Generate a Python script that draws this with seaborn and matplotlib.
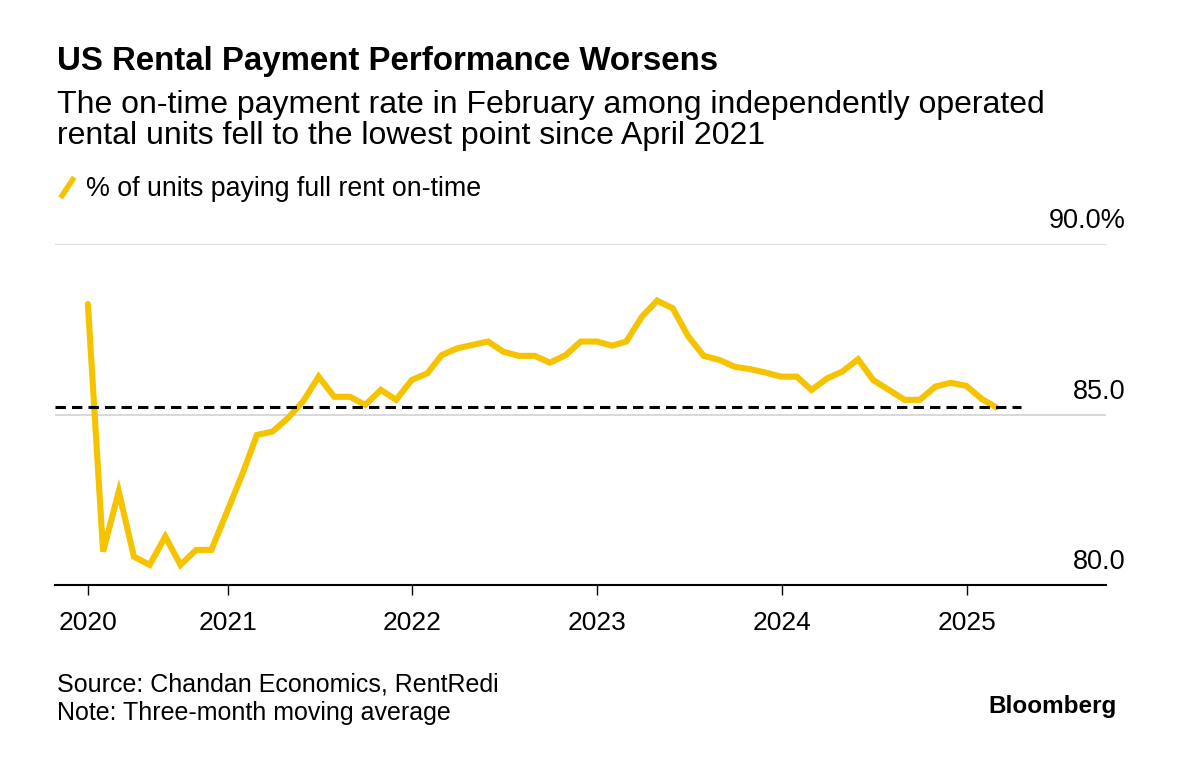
import matplotlib
matplotlib.use("Agg")
import matplotlib.pyplot as plt
from matplotlib.lines import Line2D
from matplotlib.legend_handler import HandlerBase
import seaborn as sns
import pandas as pd

# ---------------- data ----------------
start_month = "2020-03-31"
on_time_pct = [
    88.24, 80.98, 82.74, 80.83, 80.59, 81.42, 80.59, 81.03, 81.03, 82.15,
    83.28, 84.40, 84.50, 84.89, 85.40, 86.11, 85.52, 85.52, 85.28, 85.72,
    85.43, 86.01, 86.21, 86.74, 86.94, 87.04, 87.14, 86.84, 86.72, 86.72,
    86.52, 86.74, 87.14, 87.14, 87.02, 87.14, 87.87, 88.34, 88.11, 87.30,
    86.72, 86.60, 86.40, 86.33, 86.23, 86.11, 86.11, 85.72, 86.06, 86.26,
    86.62, 86.01, 85.72, 85.43, 85.43, 85.82, 85.93, 85.84, 85.45, 85.21,
]
reference_level = 85.21
y_ticks = [80, 85, 90]
y_tick_labels = ["80.0", "85.0", "90.0%"]
x_tick_labels = ["2020", "2021", "2022", "2023", "2024", "2025"]
series_label = "% of units paying full rent on-time"

title = "US Rental Payment Performance Worsens"
subtitle = ("The on-time payment rate in February among independently operated\n"
            "rental units fell to the lowest point since April 2021")
source = "Source: Chandan Economics, RentRedi\nNote: Three-month moving average"

dates = pd.date_range(start_month, periods=len(on_time_pct), freq="ME")
df = pd.DataFrame({"date": dates, "pct": on_time_pct})

YELLOW = "#F5C300"
FONT = "Liberation Sans"

sns.set_theme(style="white")
plt.rcParams["font.family"] = [FONT, "DejaVu Sans"]
plt.rcParams["text.color"] = "black"
plt.rcParams["legend.labelcolor"] = "black"

fig = plt.figure(figsize=(12, 7.71), dpi=100)
ax = fig.add_axes([55 / 1200, 1 - 585 / 771, (1106 - 55) / 1200, (585 - 244) / 771])

sns.lineplot(data=df, x="date", y="pct", ax=ax, color=YELLOW, lw=4.4,
             solid_joinstyle="miter", zorder=3, legend=False)

x_left = dates[0] - pd.Timedelta(days=65)
x_right = pd.Timestamp("2025-10-03")
ax.set_xlim(x_left, x_right)
ax.set_ylim(80, 90)

# reference dashed line
ax.hlines(reference_level, x_left, pd.Timestamp("2025-04-19"), colors="black",
          lw=2.2, linestyles=(0, (3.4, 2.0)), zorder=4)

# y grid
ax.set_yticks(y_ticks)
ax.set_yticklabels([])
ax.tick_params(axis="y", length=0)
ax.yaxis.grid(True, color="#d6d6d6", lw=1.3, zorder=0)
ax.xaxis.grid(False)
for v, lab in zip(y_ticks, y_tick_labels):
    ax.annotate(lab, xy=(1, v), xycoords=("axes fraction", "data"),
                xytext=(14, 11.5), textcoords="offset points",
                ha="right", va="baseline", fontsize=19.5, color="black")

# x ticks
xt = [dates[0]] + [pd.Timestamp(f"{y}-01-01") for y in x_tick_labels[1:]]
ax.set_xticks(xt)
ax.set_xticklabels(x_tick_labels, fontsize=19, color="black")
ax.tick_params(axis="x", direction="out", length=7, width=1.0, color="black",
               pad=12, bottom=True)
ax.set_xlabel("")
ax.set_ylabel("")

for s in ["top", "left", "right"]:
    ax.spines[s].set_visible(False)
ax.spines["bottom"].set_color("black")
ax.spines["bottom"].set_linewidth(1.5)
ax.spines["bottom"].set_zorder(5)


# legend with slash glyph
class SlashHandler(HandlerBase):
    def create_artists(self, legend, orig_handle, xdescent, ydescent, width,
                       height, fontsize, trans):
        x0 = -xdescent + width * 0.2
        x1 = -xdescent + width * 0.8
        y0 = -ydescent - height * 0.1
        y1 = -ydescent + height * 1.0
        ln = Line2D([x0, x1], [y0, y1], color=YELLOW, lw=4.0,
                    solid_capstyle="butt", transform=trans)
        return [ln]


handle = Line2D([], [], color=YELLOW, lw=4.0)
fig.legend([handle], [series_label], handler_map={Line2D: SlashHandler()},
           loc="center left", bbox_to_anchor=(56 / 1200, 1 - 189 / 771),
           frameon=False, fontsize=19.3, handlelength=0.85, handletextpad=0.28,
           borderpad=0, borderaxespad=0, labelcolor="black")

# texts
fig.text(57 / 1200, 1 - 70 / 771, title, fontsize=23.8, fontweight="bold",
         ha="left", va="baseline", color="black")
fig.text(57 / 1200, 1 - 144 / 771, subtitle, fontsize=23.0, ha="left",
         va="baseline", color="black", linespacing=1.06)
fig.text(57 / 1200, 1 - 720 / 771, source, fontsize=18.0, ha="left",
         va="baseline", color="black", linespacing=1.22)
fig.text(1117 / 1200, 1 - 713 / 771, "Bloomberg", fontsize=17.5,
         fontweight="bold", ha="right", va="baseline", color="black")

fig.savefig("out.png", dpi=100, facecolor="white")
